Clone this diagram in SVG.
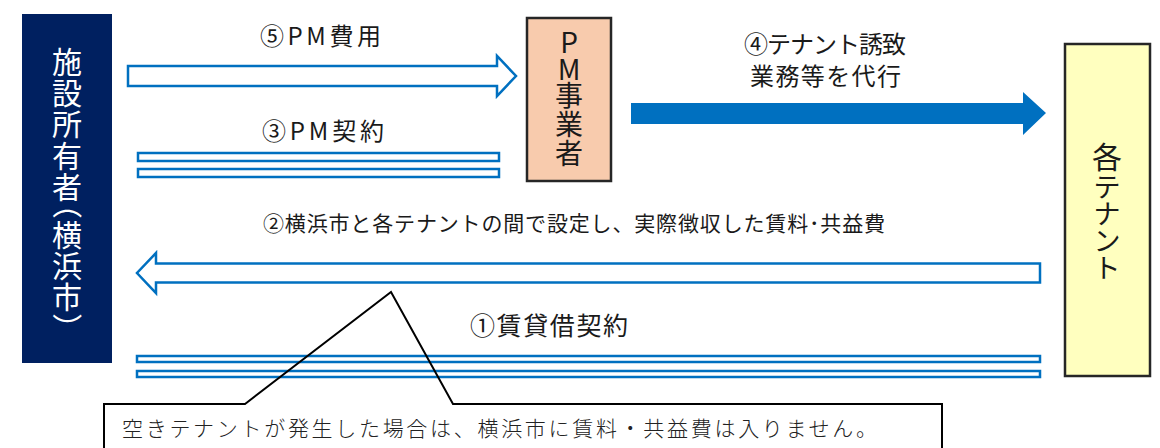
<svg xmlns="http://www.w3.org/2000/svg" width="1160" height="448" viewBox="0 0 1160 448">
<style>
.jp{font-family:"Noto Sans CJK JP","Noto Sans",sans-serif;}
.lbl{font-size:22px;fill:#1a1a1a;}
.hollow{fill:#fff;stroke:#0070C0;stroke-width:2.5;stroke-linejoin:miter;}
.bar{fill:#fff;stroke:#0070C0;stroke-width:2.5;}
.wt{font-size:30px;fill:#fff;text-anchor:middle;}
.bk{font-size:27px;fill:#1a1a1a;text-anchor:middle;}
</style>
<rect width="1160" height="448" fill="#fff"/>
<g id="owner">
<rect x="22" y="14" width="90" height="349" fill="#002060"/>
<g class="jp wt">
<text x="67" y="73">施</text>
<text x="67" y="104">設</text>
<text x="67" y="135">所</text>
<text x="67" y="167">有</text>
<text x="67" y="198">者</text>
<text transform="translate(56,204) rotate(90)">（</text>
<text x="67" y="246">横</text>
<text x="67" y="277">浜</text>
<text x="67" y="308">市</text>
<text transform="translate(56,328) rotate(90)">）</text>
</g>
</g>
<g id="pm">
<rect x="527" y="18" width="84" height="163" fill="#F8CBAD" stroke="#262626" stroke-width="2.5"/>
<g class="jp bk">
<text x="569" y="53" style="font-size:28px">P</text>
<text x="569" y="80" style="font-size:28px">M</text>
<text x="569" y="106" style="font-size:28px">事</text>
<text x="569" y="135" style="font-size:28px">業</text>
<text x="569" y="164" style="font-size:28px">者</text>
</g>
</g>
<g id="tenant">
<rect x="1065" y="44" width="85" height="332" fill="#FFFFBF" stroke="#262626" stroke-width="2.5"/>
<g class="jp bk">
<text x="1107" y="168" style="font-size:30px">各</text>
<text x="1107" y="197">テ</text>
<text x="1107" y="224">ナ</text>
<text x="1107" y="251">ン</text>
<text x="1107" y="278">ト</text>
</g>
</g>
<g id="connectors">
<polygon class="hollow" points="128,66 497,66 497,56 516,76 497,96 497,86 128,86"/>
<rect class="bar" x="138" y="153" width="361" height="8"/>
<rect class="bar" x="138" y="169" width="361" height="8"/>
<polygon fill="#0070C0" points="631,103 1023,103 1023,92 1046,113 1023,135 1023,124 631,124"/>
<polygon class="hollow" points="1040,263.5 156,263.5 156,253 137,273 156,293 156,282.5 1040,282.5"/>
<rect class="bar" x="137" y="356" width="903" height="6"/>
<rect class="bar" x="137" y="371" width="903" height="6"/>
</g>
<g id="labels" class="jp lbl">
<text x="260" y="45" textLength="121" lengthAdjust="spacing" style="font-size:24px">⑤PM費用</text>
<text x="262" y="140" textLength="122" lengthAdjust="spacing" style="font-size:24px">③PM契約</text>
<text x="744" y="53" textLength="162" lengthAdjust="spacing" style="font-size:24px">④テナント誘致</text>
<text x="750" y="85" textLength="151" lengthAdjust="spacing" style="font-size:24px">業務等を代行</text>
<text x="263" y="231" textLength="622" lengthAdjust="spacing" style="font-size:21px">②横浜市と各テナントの間で設定し、実際徴収した賃料･共益費</text>
<text x="470" y="335" textLength="158" lengthAdjust="spacing" style="font-size:25px">①賃貸借契約</text>
</g>
<g id="callout">
<path d="M104,470 V404 H245 L391,292 L453,404 H942 V470" fill="none" stroke="#000" stroke-width="2"/>
<text class="jp" x="122" y="436" textLength="755" lengthAdjust="spacing" style="font-size:21px;font-weight:300;fill:#222">空きテナントが発生した場合は、横浜市に賃料・共益費は入りません。</text>
</g>
</svg>
